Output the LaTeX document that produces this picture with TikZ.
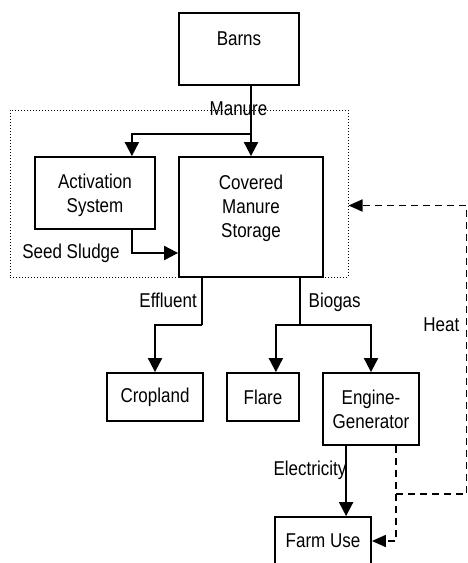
\documentclass[tikz,border=0pt]{standalone}
\usepackage{fontspec}
\setmainfont{Liberation Sans}[FakeStretch=0.85]
\usetikzlibrary{arrows.meta,calc}
\tikzset{
  txt/.style={inner sep=0pt, align=center, font=\fontsize{20}{24}\selectfont},
  box/.style={draw, line width=1.8pt, inner sep=0pt, align=center, font=\fontsize{20}{24}\selectfont},
  lbl/.style={inner sep=0pt, font=\fontsize{20}{24}\selectfont},
  flow/.style={line width=2pt, -{Triangle[length=14pt,width=14pt]}},
  plain/.style={line width=2pt},
  heat/.style={line width=1.7pt, dash pattern=on 7pt off 5pt, -{Triangle[length=14pt,width=12pt]}},
  heatline/.style={line width=1.7pt, dash pattern=on 7pt off 5pt},
  grpbox/.style={draw, line width=1pt, dash pattern=on 1.2pt off 1.8pt, inner sep=0pt},
}
\begin{document}
\begin{tikzpicture}[x=1pt,y=-1pt]
\useasboundingbox (0,0) rectangle (468,563);

% group (dotted) box
\node[grpbox, minimum width=338pt, minimum height=167pt] (grp) at (179,193.5) {};

% boxes
\node[box, minimum width=120pt, minimum height=72pt,
      label={[txt, yshift=10pt]center:Barns}] (barns) at (239,49) {};
\node[box, minimum width=120pt, minimum height=72pt,
      label={[txt, yshift=-2.5pt]center:{Activation\\System}}] (act) at (95,193) {};
\node[box, minimum width=144pt, minimum height=120pt,
      label={[txt, yshift=9pt]center:{Covered\\Manure\\Storage}}] (cov) at (251,217) {};
\node[box, minimum width=96pt, minimum height=48pt] (crop) at (155,397) {Cropland};
\node[box, minimum width=72pt, minimum height=48pt] (flare) at (263,397) {Flare};
\node[box, minimum width=96pt, minimum height=72pt] (eng) at (371,409) {Engine-\\Generator};
\node[box, minimum width=96pt, minimum height=48pt] (farm) at (323,541) {Farm Use};

% helper coordinates
\coordinate (mtop) at (barns.south -| cov.north);
\coordinate (mj) at ($(mtop)+(0,48)$);
\coordinate (actin) at ($(act.north east)+(-24,0)$);
\coordinate (actout) at ($(act.south east)+(-24,0)$);
\coordinate (ssin) at ($(cov.west)+(0,36)$);
\coordinate (effout) at ($(cov.south west)+(24,0)$);
\coordinate (effj) at ($(effout)+(0,47)$);
\coordinate (bioout) at ($(cov.south east)+(-24,0)$);
\coordinate (bioj) at ($(bioout)+(0,47)$);
\coordinate (flarein) at ($(flare.north east)+(-24,0)$);
\coordinate (elout) at ($(eng.south west)+(24,0)$);
\coordinate (hout) at ($(eng.south east)+(-24,0)$);
\coordinate (hj) at ($(hout)+(0,48)$);
\coordinate (hr) at (466.5,0);
\coordinate (hin) at ($(grp.east)+(0,12)$);

% connectors
\draw[flow] (mtop) -- (cov.north);
\draw[flow] (mj) -| (actin);
\draw[flow] (actout) |- (ssin);
\draw[plain] (effout) -- (effj);
\draw[flow] (effj) -| (crop.north);
\draw[plain] (bioout) -- (bioj);
\draw[flow] (bioj) -| (flarein);
\draw[flow] (bioj) -| (eng.north);
\draw[flow] (elout) -- (elout |- farm.north);
\draw[heat] (hout) |- (farm.east);
\draw[heat] (hj) -| (hr |- hin) -- (hin);

% labels
\node[lbl, anchor=base] (lmanure) at (238.5,115) {Manure};
\node[lbl, anchor=base] (lseed) at (71,258) {Seed Sludge};
\node[lbl, anchor=base east] (leff) at (197,307) {Effluent};
\node[lbl, anchor=base west] (lbio) at (308.5,307) {Biogas};
\node[lbl, anchor=base east] (lheat) at (459.5,331) {Heat};
\node[lbl, anchor=base east] (lelec) at (346.5,475) {Electricity};
\end{tikzpicture}
\end{document}
